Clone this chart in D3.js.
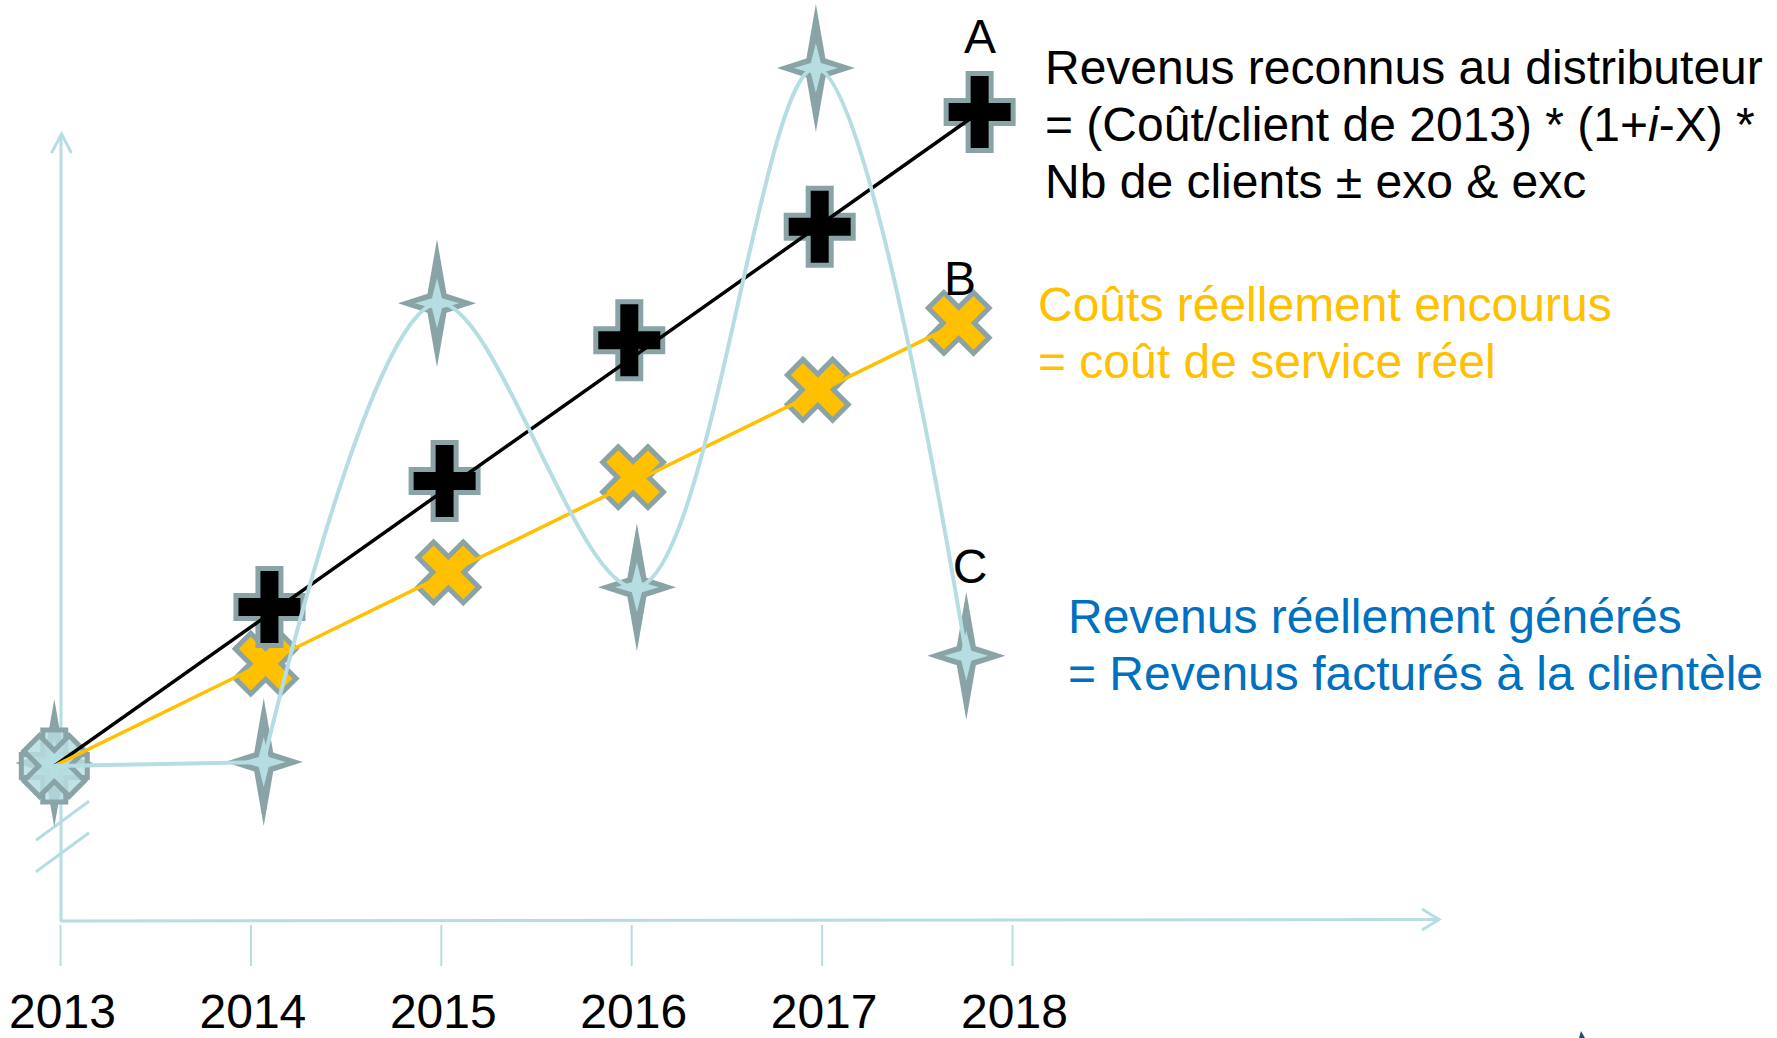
<!DOCTYPE html>
<html><head><meta charset="utf-8">
<script src="https://cdn.jsdelivr.net/npm/d3@7"></script>
<style>
html,body{margin:0;padding:0;background:#fff;}
svg{display:block;}
text{font-family:"Liberation Sans",Arial,Helvetica,sans-serif;}
</style>
</head><body>
<svg id="c" width="1777" height="1038"></svg>
<script>
// ---- data (y is an arbitrary index scale) ----
const years = [2013, 2014, 2015, 2016, 2017, 2018];
const tickLabels = ["2013", "2014", "2015", "2016", "2017", "2018"];

// A : Revenus reconnus au distributeur (black plus markers)
const recognizedYears  = [2012.97, 2014.10, 2015.02, 2015.99, 2016.99, 2017.83];
const recognizedValues = [19.7, 39.9, 55.9, 73.8, 88.2, 102.8];

// B : Coûts réellement encourus (orange x markers)
const incurredYears  = [2012.97, 2014.08, 2015.04, 2016.01, 2016.98, 2017.72];
const incurredValues = [19.7, 32.7, 44.3, 56.4, 67.5, 76.0];

// C : Revenus réellement générés (star markers, smoothed line)
const generatedYears  = [2012.97, 2014.07, 2014.98, 2016.03, 2016.97, 2017.76];
const generatedValues = [19.7, 20.2, 78.5, 42.4, 108.4, 33.7];

const labelA = ["Revenus reconnus au distributeur", "= (Coût/client de 2013) * (1+|i|-X) *", "Nb de clients ± exo & exc"];
const labelB = ["Coûts réellement encourus", "= coût de service réel"];
const labelC = ["Revenus réellement générés", "= Revenus facturés à la clientèle"];

// ---- styles ----
const TEAL = "#B6DDE1", GREY = "#8AA3A6", ORANGE = "#FFC000", BLUE = "#0070C0";

const svg = d3.select("#c");
const x = d3.scaleLinear().domain([2013, 2018]).range([60, 1012]);
const y = d3.scaleLinear().domain([0, 100]).range([921, 134]);

const zip = (xs, ys) => xs.map((v, i) => [v, ys[i]]);
const A = zip(recognizedYears, recognizedValues);
const B = zip(incurredYears, incurredValues);
const C = zip(generatedYears, generatedValues);

// ---- axes ----
const axisG = svg.append("g");
axisG.append("line").attr("x1", 61).attr("x2", 61).attr("y1", y(0)).attr("y2", y(100))
  .attr("stroke", TEAL).attr("stroke-width", 3);
axisG.append("path").attr("d", `M51.5,${y(100)+19} L61.5,${y(100)} L71.5,${y(100)+19}`)
  .attr("fill", "none").attr("stroke", TEAL).attr("stroke-width", 3);
axisG.append("line").attr("x1", 60).attr("x2", 1438).attr("y1", y(0)).attr("y2", y(0) - 1.5)
  .attr("stroke", TEAL).attr("stroke-width", 3);
axisG.append("path").attr("d", `M1422,${y(0)-12} L1439,${y(0)-1.5} L1422,${y(0)+9}`)
  .attr("fill", "none").attr("stroke", TEAL).attr("stroke-width", 3);
[12.8, 8.8].forEach(v => {
  axisG.append("line").attr("x1", 36).attr("x2", 89)
    .attr("y1", y(v) + 20).attr("y2", y(v) - 19)
    .attr("stroke", TEAL).attr("stroke-width", 3);
});

const xAxis = d3.axisBottom(x).tickValues(years).tickFormat((d, i) => tickLabels[i])
  .tickSize(41).tickPadding(28);
const gx = svg.append("g").attr("transform", `translate(0,${y(0) + 4})`).call(xAxis);
gx.select(".domain").remove();
gx.selectAll(".tick line").attr("stroke", TEAL).attr("stroke-width", 2);
gx.selectAll(".tick text").attr("fill", "#000").attr("font-size", 48)
  .attr("font-family", '"Liberation Sans",Arial,sans-serif').attr("dx", 2);

// ---- marker shapes ----
function plusPath(H, V, w) {
  return `M${-w},${-V}L${w},${-V}L${w},${-w}L${H},${-w}L${H},${w}L${w},${w}L${w},${V}L${-w},${V}L${-w},${w}L${-H},${w}L${-H},${-w}L${-w},${-w}Z`;
}
function starPath(V, H, w) {
  return `M0,${-V}L${w},${-w}L${H},0L${w},${w}L0,${V}L${-w},${w}L${-H},0L${-w},${-w}Z`;
}

const gMarks = svg.append("g");
function drawStar(sel) {
  sel.append("path").attr("d", starPath(64, 39, 9.5)).attr("fill", GREY);
  sel.append("path").attr("d", starPath(25, 22, 5)).attr("fill", TEAL);
}
// origin star sits beneath the origin plus / x
drawStar(gMarks.append("g").attr("transform", `translate(${x(C[0][0])},${y(C[0][1]) - 3})`));

// X markers (orange)
gMarks.selectAll(".xm").data(B.slice(1)).join("path").attr("class", "xm")
  .attr("d", plusPath(32, 32, 11))
  .attr("transform", d => `translate(${x(d[0])},${y(d[1])}) rotate(45)`)
  .attr("fill", ORANGE)
  .attr("stroke", GREY).attr("stroke-width", 5).attr("stroke-linejoin", "miter");
// plus markers (black)
gMarks.selectAll(".pm").data(A).join("path").attr("class", "pm")
  .attr("d", (d, i) => i === 0 ? plusPath(33, 36, 11.5) : plusPath(33.5, 38.5, 11.5))
  .attr("transform", d => `translate(${x(d[0])},${y(d[1])})`)
  .attr("fill", (d, i) => i === 0 ? TEAL : "#000")
  .attr("fill-opacity", (d, i) => i === 0 ? 0.8 : 1)
  .attr("stroke", GREY).attr("stroke-width", 5).attr("stroke-linejoin", "miter");
// origin X (shared origin, teal)
gMarks.append("path").attr("d", plusPath(32, 32, 11))
  .attr("transform", `translate(${x(B[0][0])},${y(B[0][1])}) rotate(45)`)
  .attr("fill", TEAL).attr("fill-opacity", 0.85).attr("stroke", GREY).attr("stroke-width", 5);
// star markers
const stars = gMarks.selectAll(".sm").data(C.slice(1)).join("g").attr("class", "sm")
  .attr("transform", d => `translate(${x(d[0])},${y(d[1])})`);
drawStar(stars);

// ---- lines ----
const line = d3.line().x(d => x(d[0])).y(d => y(d[1]));
svg.append("path").datum([A[0], A[A.length - 1]]).attr("d", line)
  .attr("fill", "none").attr("stroke", "#000").attr("stroke-width", 3.5);
svg.append("path").datum([B[0], B[B.length - 1]]).attr("d", line)
  .attr("fill", "none").attr("stroke", ORANGE).attr("stroke-width", 3.5);
// revenue curve: straight from 2013 to 2014, then smoothed
const smooth = d3.line().x(d => x(d[0])).y(d => y(d[1])).curve(d3.curveCatmullRom.alpha(0.5));
svg.append("path").attr("d", line(C.slice(0, 2)) + smooth(C.slice(1)))
  .attr("fill", "none").attr("stroke", TEAL).attr("stroke-width", 4)
  .attr("stroke-linecap", "round").attr("stroke-linejoin", "round");

// ---- annotations ----
const ann = svg.append("g").attr("font-size", 48);
ann.append("text").attr("x", 980).attr("y", 53).attr("text-anchor", "middle").text("A");
ann.append("text").attr("x", 960).attr("y", 295).attr("text-anchor", "middle").text("B");
ann.append("text").attr("x", 970).attr("y", 583).attr("text-anchor", "middle").text("C");

function block(lines, x0, y0, dy, color) {
  const t = ann.append("text").attr("fill", color);
  lines.forEach((ln, i) => {
    const parts = ln.split("|");
    parts.forEach((p, j) => {
      const ts = t.append("tspan").text(p);
      if (j === 0) ts.attr("x", x0).attr("y", y0 + i * dy);
      if (j % 2 === 1) ts.attr("font-style", "italic");
    });
  });
}
block(labelA, 1045, 84, 57, "#000");
block(labelB, 1038, 321, 57, ORANGE);
block(labelC, 1068, 633, 57, BLUE);

svg.append("path").attr("d", "M1579,1038L1581,1031L1585,1038Z").attr("fill", "#1F4E79");
</script>
</body></html>
